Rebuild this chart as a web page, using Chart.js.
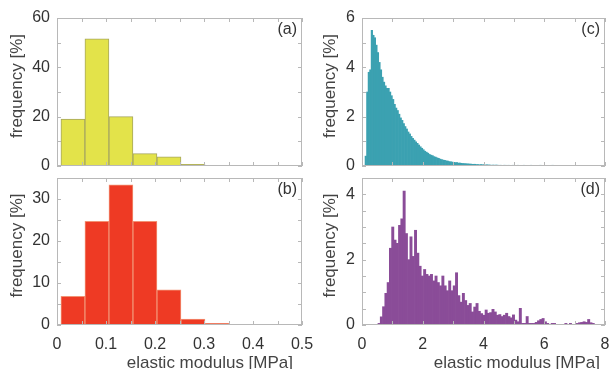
<!DOCTYPE html>
<html>
<head>
<meta charset="utf-8">
<script src="https://cdn.jsdelivr.net/npm/chart.js@4.4.1/dist/chart.umd.min.js"></script>
<style>
    html, body { margin: 0; padding: 0; background: #fff; }
    body { width: 611px; height: 369px; position: relative; overflow: hidden; }
    canvas { position: absolute; }
</style>
</head>
<body>
<canvas id="chartA" width="305" height="170" style="left:0;top:0;z-index:1"></canvas>
<canvas id="chartC" width="330" height="170" style="left:305px;top:0;z-index:2"></canvas>
<canvas id="chartB" width="320" height="199" style="left:0;top:170px;z-index:3"></canvas>
<canvas id="chartD" width="330" height="199" style="left:305px;top:170px;z-index:4"></canvas>
<script>
// --- data (frequency in %) ---
// panels (a) and (b): coarse histograms, bins of equal width
const abBinStart = 0.008;
const abBinWidth = 0.049;
const aValues = [19, 51.6, 20, 5, 3.7, 0.7];
const bValues = [6.8, 24.7, 33.4, 24.7, 8.4, 1.4, 0.4];

// panel (c): fine histogram from 0 MPa, 0.05 MPa bins
const cBinStart = 0;
const cBinWidth = 0.05;
const cValues = [
    0, 0, 0.4, 3.0, 3.8, 3.9, 5.5, 5.3, 5.2, 4.9,
    4.6, 4.2, 3.9, 3.6, 3.4, 3.25, 3.15, 3.15, 3.0, 2.85,
    2.7, 2.5, 2.35, 2.25, 2.1, 1.95, 1.85, 1.72, 1.6, 1.5,
    1.38, 1.3, 1.2, 1.12, 1.05, 0.98, 0.92, 0.85, 0.78, 0.72,
    0.66, 0.6, 0.56, 0.52, 0.47, 0.44, 0.42, 0.38, 0.36, 0.33,
    0.31, 0.28, 0.26, 0.24, 0.23, 0.21, 0.2, 0.18, 0.17, 0.16,
    0.15, 0.14, 0.14, 0.12, 0.12, 0.11, 0.1, 0.1, 0.09, 0.09,
    0.08, 0.08, 0.07, 0.07, 0.07, 0.06, 0.06, 0.05, 0.06, 0.05,
    0.05, 0.04, 0.05, 0.04, 0.04, 0.03, 0.04, 0.03, 0.04, 0.03,
    0.03, 0.03, 0.02, 0.03, 0.03, 0.02, 0.03, 0.02, 0.02, 0.03,
    0.02, 0.02, 0.03, 0.02, 0.02, 0.02, 0.03, 0.02, 0.02, 0.02,
    0.02, 0.03, 0.02, 0.02, 0.02, 0.02, 0.02, 0.03, 0.02, 0.02,
    0.02, 0.02, 0.02, 0.02, 0.02, 0.03, 0.02, 0.02, 0.02, 0.02,
    0.02, 0.02, 0.01, 0.02, 0.02, 0.02, 0.02, 0.01, 0.02, 0.02,
    0.02, 0.02, 0.01, 0.02, 0.02, 0.02, 0.01, 0.02, 0.02, 0.01,
    0.02, 0.02, 0.01, 0.02, 0.01, 0.02, 0.01, 0.01, 0.01, 0.01
];

// panel (d): fine histogram starting at 0.525 MPa, 0.075 MPa bins
const dBinStart = 0.525;
const dBinWidth = 0.075;
const dValues = [
    0.05, 0.25, 0.56, 0.97, 1.3, 2.35, 3.0, 2.6, 2.5, 3.05,
    3.25, 4.1, 2.8, 2.0, 2.7, 2.1, 2.9, 2.2, 1.8, 1.5,
    1.7, 1.55, 1.5, 1.55, 1.35, 1.5, 1.3, 1.2, 1.5, 1.2,
    1.05, 1.35, 1.05, 1.2, 1.6, 0.9, 0.7, 0.97, 0.75, 0.6,
    0.66, 0.4, 0.55, 0.66, 0.42, 0.35, 0.3, 0.46, 0.36, 0.38,
    0.48, 0.4, 0.3, 0.32, 0.26, 0.3, 0.36, 0.26, 0.22, 0.31,
    0.15, 0.1, 0.51, 0.05, 0.05, 0.26, 0.05, 0.05, 0.05, 0.08,
    0.13, 0.17, 0.2, 0.1, 0.05, 0, 0.05, 0.05, 0, 0,
    0, 0, 0.05, 0, 0.05, 0, 0, 0.05, 0.07, 0.08,
    0.1, 0.08, 0.17, 0.07, 0.05
];

const panelLabels = ['(a)', '(b)', '(c)', '(d)'];
const yTitle = 'frequency [%]';
const xTitle = 'elastic modulus [MPa]';

const FONT = '"Liberation Sans", Arial, Helvetica, sans-serif';

function toBins(start, width, values) {
    return values.map((v, i) => ({ x: start + (i + 0.5) * width, y: v }));
}

// box, inward ticks on all four sides, titles, panel letter, then x tick labels
const framePlugin = {
    id: 'framePlugin',
    afterDraw(chart, args, opts) {
        const { ctx, chartArea: a, scales: { x, y } } = chart;
        ctx.save();
        ctx.strokeStyle = '#b8b8b8';
        ctx.lineWidth = 1;
        ctx.beginPath();
        x.ticks.forEach(t => {
            const px = Math.round(x.getPixelForValue(t.value)) + 0.5;
            ctx.moveTo(px, a.bottom); ctx.lineTo(px, a.bottom - 4);
            ctx.moveTo(px, a.top); ctx.lineTo(px, a.top + 4);
        });
        y.ticks.forEach(t => {
            const py = Math.round(y.getPixelForValue(t.value)) + 0.5;
            ctx.moveTo(a.left, py); ctx.lineTo(a.left + 4, py);
            ctx.moveTo(a.right, py); ctx.lineTo(a.right - 4, py);
        });
        ctx.stroke();
        ctx.strokeRect(a.left + 0.5, a.top + 0.5, a.right - a.left - 1, a.bottom - a.top - 1);
        ctx.restore();

        ctx.save();
        ctx.fillStyle = '#333';
        ctx.font = '16px ' + FONT;
        ctx.textAlign = 'right';
        ctx.textBaseline = 'middle';
        ctx.fillText(opts.label, a.right - 5, a.top + 12);
        ctx.restore();

        ctx.save();
        ctx.font = '17px ' + FONT;
        ctx.fillStyle = '#444';
        ctx.translate(opts.yTitleX, (a.top + a.bottom) / 2 - 6);
        ctx.rotate(-Math.PI / 2);
        ctx.textAlign = 'center';
        ctx.textBaseline = 'alphabetic';
        ctx.fillText(yTitle, 0, 0);
        ctx.restore();

        if (opts.xTitle) {
            ctx.save();
            ctx.font = '17px ' + FONT;
            ctx.fillStyle = '#444';
            ctx.textAlign = 'right';
            ctx.textBaseline = 'alphabetic';
            ctx.fillText(xTitle, a.right - opts.xTitleInset, a.bottom + 43);
            ctx.restore();

            // x tick labels, taken from the scale's own ticks
            ctx.save();
            ctx.font = '16px ' + FONT;
            ctx.fillStyle = '#333';
            ctx.textAlign = 'center';
            ctx.textBaseline = 'alphabetic';
            x.ticks.forEach(t => {
                if (t.label !== '') ctx.fillText(String(t.label), x.getPixelForValue(t.value), a.bottom + 24);
            });
            ctx.restore();
        }
    }
};

function fixWidth(w) {
    return scale => { scale.width = w; scale.paddingTop = 0; scale.paddingBottom = 0; };
}
function fixHeight(h) {
    return scale => { scale.height = h; scale.paddingLeft = 0; scale.paddingRight = 0; };
}

function makePanel(id, cfg) {
    const ctx = document.getElementById(id);
    return new Chart(ctx, {
        type: 'bar',
        data: {
            datasets: [{
                data: cfg.data,
                backgroundColor: cfg.color,
                borderColor: cfg.edge,
                borderWidth: cfg.edgeWidth,
                barPercentage: 1,
                categoryPercentage: 1,
                grouped: false
            }]
        },
        options: {
            responsive: false,
            animation: false,
            events: [],
            layout: { padding: { top: cfg.padTop, right: cfg.padRight, left: 0, bottom: 0 } },
            plugins: {
                legend: { display: false },
                tooltip: { enabled: false },
                framePlugin: {
                    label: cfg.label,
                    yTitleX: cfg.yTitleX,
                    xTitle: cfg.showX,
                    xTitleInset: cfg.xTitleInset
                }
            },
            scales: {
                x: {
                    type: 'linear',
                    min: cfg.xMin, max: cfg.xMax,
                    offset: false,
                    grid: { display: false, drawTicks: false },
                    border: { display: false },
                    afterFit: fixHeight(cfg.xHeight),
                    ticks: {
                        display: false,
                        stepSize: cfg.xStep,
                        autoSkip: false,
                        maxRotation: 0,
                        callback: cfg.xLabel
                    }
                },
                y: {
                    min: 0, max: cfg.yMax,
                    grid: { display: false, drawTicks: false },
                    border: { display: false },
                    afterFit: fixWidth(57),
                    ticks: {
                        stepSize: cfg.yStep,
                        autoSkip: false,
                        padding: 7,
                        color: '#333',
                        font: { family: FONT, size: 16 },
                        callback: cfg.yLabel
                    }
                }
            }
        },
        plugins: [framePlugin]
    });
}

const labelEvery = (n, dec) => v => {
    const r = Math.round(v * 1000);
    const m = Math.round(n * 1000);
    return r % m === 0 ? String(+(v.toFixed(dec))) : '';
};

makePanel('chartA', {
    data: toBins(abBinStart, abBinWidth, aValues),
    color: '#e3e34a', edge: '#a6a660', edgeWidth: 1,
    padTop: 18, padRight: 3, xHeight: 4,
    xMin: 0, xMax: 0.5, xStep: 0.05, showX: false, xLabel: labelEvery(0.1, 1),
    yMax: 60, yStep: 10, yLabel: labelEvery(20, 0),
    label: panelLabels[0], yTitleX: 22
});
makePanel('chartB', {
    data: toBins(abBinStart, abBinWidth, bValues),
    color: '#ee3a24', edge: '#f29274', edgeWidth: 1,
    padTop: 8, padRight: 18, xHeight: 44,
    xMin: 0, xMax: 0.5, xStep: 0.05, showX: true, xLabel: labelEvery(0.1, 1), xTitleInset: 9,
    yMax: 35, yStep: 5, yLabel: labelEvery(10, 0),
    label: panelLabels[1], yTitleX: 22
});
makePanel('chartC', {
    data: toBins(cBinStart, cBinWidth, cValues),
    color: '#3ba1b1', edge: '#3ba1b1', edgeWidth: 0,
    padTop: 18, padRight: 30, xHeight: 4,
    xMin: 0, xMax: 8, xStep: 1, showX: false, xLabel: labelEvery(2, 0),
    yMax: 6, yStep: 1, yLabel: labelEvery(2, 0),
    label: panelLabels[2], yTitleX: 30
});
makePanel('chartD', {
    data: toBins(dBinStart, dBinWidth, dValues),
    color: '#8a4c98', edge: '#8a4c98', edgeWidth: 0,
    padTop: 8, padRight: 30, xHeight: 44,
    xMin: 0, xMax: 8, xStep: 1, showX: true, xLabel: labelEvery(2, 0), xTitleInset: 5,
    yMax: 4.5, yStep: 0.5, yLabel: labelEvery(2, 0),
    label: panelLabels[3], yTitleX: 30
});
</script>
</body>
</html>
